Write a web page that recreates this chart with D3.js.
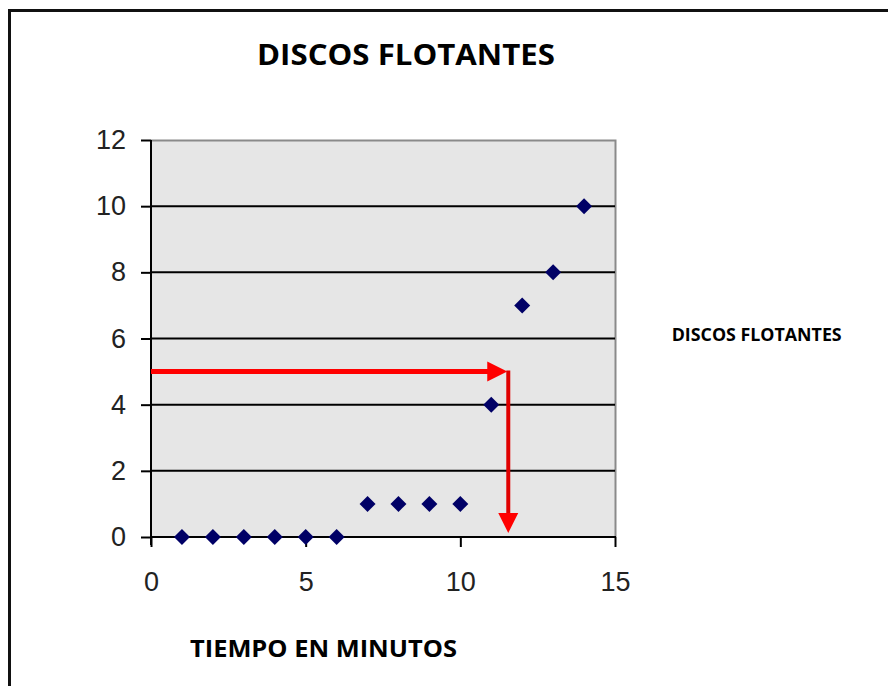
<!DOCTYPE html>
<html>
<head>
<meta charset="utf-8">
<script src="https://cdn.jsdelivr.net/npm/d3@7"></script>
<style>
html,body{margin:0;padding:0;background:#fff;}
svg{display:block;}
</style>
</head>
<body>
<script>
// ---- data ----
const minutes = [1,2,3,4,5,6,7,8,9,10,11,12,13,14];
const discos  = [0,0,0,0,0,0,1,1,1,1,4,7,8,10];
const xTicks = [0,5,10,15];
const yTicks = [0,2,4,6,8,10,12];
const chartTitle = "DISCOS FLOTANTES";
const xTitle = "TIEMPO EN MINUTOS";
const legendLabel = "DISCOS FLOTANTES";
// red reading arrows (data coordinates)
const arrowLevel = [5];
const arrowTime = [11.55];
const arrowEnd = [0.12];

const W = 888, H = 686;
const svg = d3.select("body").append("svg").attr("width", W).attr("height", H);

// outer frame (left & top edges visible)
svg.append("path").attr("d", "M9.5,690 L9.5,10.5 L892,10.5")
  .attr("fill","none").attr("stroke","#111").attr("stroke-width",3);

const plot = {left:151, right:615, top:140, bottom:537};
const x = d3.scaleLinear().domain([0,15]).range([plot.left, plot.right]);
const y = d3.scaleLinear().domain([0,12]).range([plot.bottom, plot.top]);

// plot background
svg.append("rect").attr("x", plot.left).attr("y", plot.top)
  .attr("width", plot.right-plot.left).attr("height", plot.bottom-plot.top)
  .attr("fill","#e6e6e6");
// top & right border (grey)
svg.append("path").attr("d", `M${plot.left},${plot.top+0.5} L${plot.right+0.5},${plot.top+0.5} L${plot.right+0.5},${plot.bottom}`)
  .attr("fill","none").attr("stroke","#8a8a8a").attr("stroke-width",2);

// gridlines
svg.append("g").selectAll("line").data(yTicks.filter(d => d>0 && d<12)).join("line")
  .attr("x1", plot.left).attr("x2", plot.right)
  .attr("y1", d => y(d)).attr("y2", d => y(d))
  .attr("stroke","#000").attr("stroke-width",2);

// y axis
const yAxis = svg.append("g").attr("transform", `translate(${plot.left},0)`)
  .call(d3.axisLeft(y).tickValues(yTicks).tickSize(10).tickPadding(15).tickFormat(d3.format("d")));
yAxis.select(".domain").attr("stroke","#000").attr("stroke-width",2)
  .attr("d", `M0,${plot.top} L0,${plot.bottom+8}`);
yAxis.selectAll(".tick line").attr("stroke","#000").attr("stroke-width",2);
yAxis.selectAll(".tick text").attr("font-family","'Liberation Sans', Arial, sans-serif")
  .attr("font-size", 27).attr("fill","#222");

// x axis
const xAxis = svg.append("g").attr("transform", `translate(0,${plot.bottom})`)
  .call(d3.axisBottom(x).tickValues(xTicks).tickSize(10).tickPadding(25).tickFormat(d3.format("d")));
xAxis.select(".domain").attr("stroke","#000").attr("stroke-width",2)
  .attr("d", `M${plot.left},0 L${plot.right+1},0`);
xAxis.selectAll(".tick line").attr("stroke","#000").attr("stroke-width",2);
xAxis.selectAll(".tick text").attr("font-family","'Liberation Sans', Arial, sans-serif")
  .attr("font-size", 27).attr("fill","#222");

// red arrows
const red = "#ff0000";
const hx1 = x(0), hy = y(arrowLevel[0]), hx2 = x(arrowTime[0]) - 1;
svg.append("line").attr("x1", hx1).attr("x2", hx2 - 16).attr("y1", hy).attr("y2", hy)
  .attr("stroke", red).attr("stroke-width", 5);
svg.append("path").attr("d", `M${hx2},${hy} L${hx2-20},${hy-10} L${hx2-20},${hy+10} Z`).attr("fill", red);
const vx = x(arrowTime[0]), vy1 = hy - 1, vy2 = y(arrowEnd[0]);
svg.append("line").attr("x1", vx).attr("x2", vx).attr("y1", vy1).attr("y2", vy2 - 16)
  .attr("stroke", "#e00000").attr("stroke-width", 4);
svg.append("path").attr("d", `M${vx},${vy2} L${vx-10},${vy2-20} L${vx+10},${vy2-20} Z`).attr("fill", red);

// markers
const s = 8;
svg.append("g").selectAll("path").data(minutes.map((m,i)=>[m,discos[i]])).join("path")
  .attr("d", d => `M${x(d[0])},${y(d[1])-s} L${x(d[0])+s},${y(d[1])} L${x(d[0])},${y(d[1])+s} L${x(d[0])-s},${y(d[1])} Z`)
  .attr("fill","#000066");

// titles
const fam = "'Open Sans', 'Noto Sans', sans-serif";
svg.append("text").attr("x", 406).attr("y", 65).attr("text-anchor","middle")
  .attr("font-family", fam).attr("font-weight", "bold").attr("font-size", 28)
  .attr("textLength", 298).attr("lengthAdjust","spacingAndGlyphs").text(chartTitle);
svg.append("text").attr("x", 323.5).attr("y", 657).attr("text-anchor","middle")
  .attr("font-family", fam).attr("font-weight", "bold").attr("font-size", 24)
  .attr("textLength", 267).attr("lengthAdjust","spacingAndGlyphs").text(xTitle);
svg.append("text").attr("x", 756.7).attr("y", 340.7).attr("text-anchor","middle")
  .attr("font-family", fam).attr("font-weight", "bold").attr("font-size", 17.5)
  .attr("textLength", 170).attr("lengthAdjust","spacingAndGlyphs").text(legendLabel);
</script>
</body>
</html>
